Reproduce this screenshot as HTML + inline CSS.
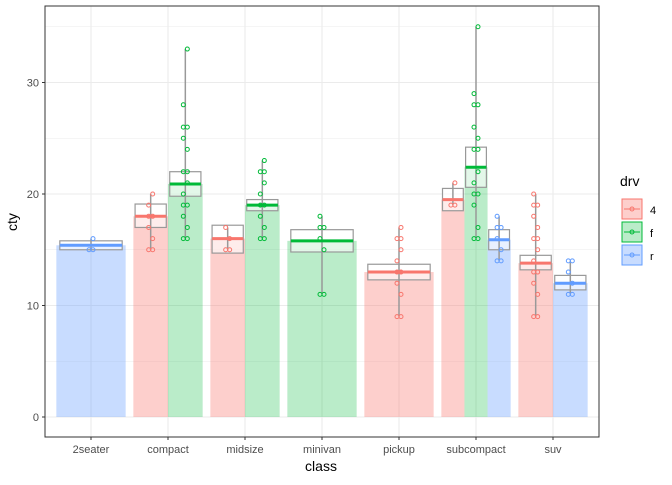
<!DOCTYPE html>
<html><head><meta charset="utf-8"><style>
body{margin:0;background:#fff;}
svg text{font-family:"Liberation Sans",sans-serif;}
</style></head><body>
<svg id="chart" width="672" height="480" xmlns="http://www.w3.org/2000/svg">
<g id="grid"></g>
<g id="marks"></g>
<rect x="45" y="6" width="554" height="431" fill="none" stroke="#333" stroke-width="1"/>
<g id="axes"></g>
<text x="321" y="471" font-size="14" text-anchor="middle" fill="#000">class</text>
<text x="17" y="222" font-size="14" text-anchor="middle" fill="#000" transform="rotate(-90 17 222)">cty</text>
<g>
<text x="620" y="186" font-size="14" fill="#000">drv</text>
<g id="legend"></g>
</g>
</svg>
<script>
const categories=["2seater","compact","midsize","minivan","pickup","subcompact","suv"];
const groupDrv=["r","4","f","4","f","f","4","4","f","r","4","r"];
const groupClass=[0,1,1,2,2,3,4,5,5,5,6,6];
const groupMean=[15.4,18.0,20.9,16.0,19.0,15.8,13.0,19.5,22.4,15.9,13.8,12.0];
const groupLow=[15.0,17.0,19.8,14.7,18.5,14.8,12.3,18.5,20.6,15.0,13.2,11.4];
const groupHigh=[15.8,19.1,22.0,17.2,19.5,16.8,13.7,20.5,24.2,16.8,14.5,12.7];
const groupPoints=[
 [15,16],
 [15,16,17,18,19,20],
 [16,17,18,19,20,21,22,24,25,26,28,33],
 [15,16,17],
 [16,17,18,19,20,21,22,23],
 [11,15,16,17,18],
 [9,11,12,13,14,15,16,17],
 [19,21],
 [16,17,19,20,21,22,24,25,26,28,29,35],
 [14,15,16,17,18],
 [9,11,12,13,14,15,16,17,18,19,20],
 [11,12,13,14]
];
const yTicks=[0,10,20,30];
const drvLevels=["4","f","r"];
const colors={"4":"#F8766D","f":"#00BA38","r":"#619CFF"};
const alphas={"4":0.35,"f":0.27,"r":0.35};
const NS="http://www.w3.org/2000/svg";
const x0=91,step=77;
function xScale(i){return x0+i*step;}
function yScale(v){return 417-v*11.15;}
function mk(parent,tag,attrs){const e=document.createElementNS(NS,tag);for(const k in attrs)e.setAttribute(k,attrs[k]);parent.appendChild(e);return e;}
const grid=document.getElementById('grid'),marks=document.getElementById('marks'),axes=document.getElementById('axes');
for(let v=0;v<=35;v+=5){const l=mk(grid,'line',{x1:45,x2:599,y1:yScale(v),y2:yScale(v),stroke:'#ebebeb','stroke-width':v%10===0?1.1:0.6});

}
categories.forEach((c,i)=>{const l=mk(grid,'line',{x1:xScale(i),x2:xScale(i),y1:6,y2:437,stroke:'#ebebeb','stroke-width':1.1});


const t=mk(axes,'text',{x:xScale(i),y:453,'font-size':11,'text-anchor':'middle',fill:'#4d4d4d'});t.textContent=c;


const tk=mk(axes,'line',{x1:xScale(i),x2:xScale(i),y1:437,y2:440,stroke:'#333'});

});
yTicks.forEach(v=>{const t=mk(axes,'text',{x:39,y:yScale(v)+4,'font-size':11,'text-anchor':'end',fill:'#4d4d4d'});t.textContent=v;


const tk=mk(axes,'line',{x1:42,x2:45,y1:yScale(v),y2:yScale(v),stroke:'#333'});

});
const counts=categories.map((c,i)=>groupClass.filter(g=>g===i).length);
const seen=categories.map(()=>0);
groupMean.forEach((m,g)=>{
 const ci=groupClass[g],n=counts[ci],k=seen[ci]++;
 const full=0.9*step,w=full/n,left=xScale(ci)-full/2+k*w,cx=left+w/2;
 const col=colors[groupDrv[g]];
 const b=mk(marks,'rect',{x:left,y:yScale(m),width:w,height:yScale(0)-yScale(m),fill:col,'fill-opacity':alphas[groupDrv[g]]});
 
 
 const bw=w*0.9;
 const box=mk(marks,'rect',{x:cx-bw/2,y:yScale(groupHigh[g]),width:bw,height:yScale(groupLow[g])-yScale(groupHigh[g]),fill:'#fff','fill-opacity':0.6,stroke:'#999','stroke-width':1.2});
 
 
 const pts=groupPoints[g],mn=Math.min(...pts),mx=Math.max(...pts);
 const vl=mk(marks,'line',{x1:cx,x2:cx,y1:yScale(mx),y2:yScale(mn),stroke:'#999','stroke-width':1.5});
 
 
 const ml=mk(marks,'line',{x1:cx-bw/2,x2:cx+bw/2,y1:yScale(m),y2:yScale(m),stroke:col,'stroke-width':3});
 
 
 pts.forEach((p,j)=>{
  const off=(j%2?2:-2);
  const c=mk(marks,'circle',{cx:cx+off,cy:yScale(p),r:2,fill:'none',stroke:col,'stroke-width':1});
  
  
  if(j%3===0){const c2=mk(marks,'circle',{cx:cx-off,cy:yScale(p),r:2,fill:'none',stroke:col,'stroke-width':1});
  
  }
 });
});
const lg=document.getElementById('legend');
drvLevels.forEach((d,i)=>{const y=199+i*23,col=colors[d];
 const r=mk(lg,'rect',{x:622,y:y,width:20,height:20,fill:col,'fill-opacity':alphas[d],stroke:col,'stroke-width':1});
 
 
 mk(lg,'line',{x1:624,x2:640,y1:y+10,y2:y+10,stroke:col,'stroke-width':1});
 mk(lg,'circle',{cx:632,cy:y+10,r:2,fill:'none',stroke:col});
 const t=mk(lg,'text',{x:650,y:y+15,'font-size':11,fill:'#000'});t.textContent=d;
 
 });
</script>
</body></html>
